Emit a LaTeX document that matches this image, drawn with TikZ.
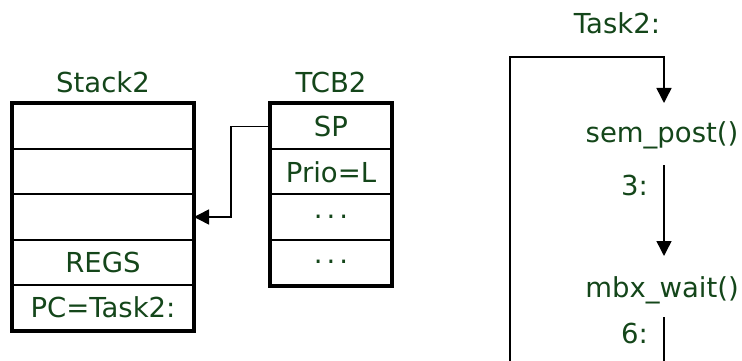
\documentclass[tikz,border=0pt]{standalone}
\usepackage{fontspec}
\setmainfont{DejaVu Sans}
\usetikzlibrary{arrows.meta,positioning,calc}
\definecolor{leaf}{HTML}{14461A}
\definecolor{ink}{HTML}{000000}
\begin{document}
\begin{tikzpicture}[x=1pt,y=-1pt,font=\fontsize{27.5}{32}\selectfont,
  cell/.style={draw=ink,line width=2pt,minimum width=180pt,minimum height=45.2pt,
               inner sep=0pt,text=leaf},
  tcell/.style={cell,minimum width=120pt},
  frame/.style={draw=ink,line width=3.5pt},
  lbl/.style={text=leaf,inner sep=0pt},
  flow/.style={draw=ink,line width=1.5pt},
  arr/.style={flow,-{Triangle[length=15pt,width=15pt]}}]
\useasboundingbox (0,0) rectangle (742,361);
% stack of task 2
\node[lbl] (stacklbl) at (103,82) {Stack2};
\foreach \i/\t in {1/,2/,3/,4/REGS,5/PC=Task2:}
  \node[cell] (s\i) at (103,{104+45.2*(\i-0.5)}) {\t};
\draw[frame] (s1.north west) rectangle (s5.south east);
% task control block
\node[lbl] (tcblbl) at (331,82) {TCB2};
\foreach \i/\t in {1/SP,2/Prio=L,3/{.\kern4pt.\kern4pt.},4/{.\kern4pt.\kern4pt.}}
  \node[tcell] (t\i) at (331,{104+45.2*(\i-0.5)}) {\t};
\draw[frame] (t1.north west) rectangle (t4.south east);
\draw[arr] (t1.west) -- ++(-39,0) |- (s3.east);
% task 2 code
\node[lbl] (task) at (617,23) {Task2:};
\node[lbl] (post) at (662,135) {sem\_post()};
\node[lbl,anchor=east] (n3) at (648,185) {3:};
\node[lbl] (wait) at (662,290) {mbx\_wait()};
\node[lbl,anchor=east] (n6) at (648,333) {6:};
\coordinate (botL) at (510,362);
\coordinate (topR) at (664,57);
\coordinate (postin) at (664,103);
\coordinate (postout) at (664,165);
\coordinate (waitin) at (664,256);
\coordinate (waitout) at (664,317);
\coordinate (botR) at (664,362);
\draw[arr] (botL) |- (topR) -- (postin);
\draw[arr] (postout) -- (waitin);
\draw[flow] (waitout) -- (botR);
\end{tikzpicture}
\end{document}
